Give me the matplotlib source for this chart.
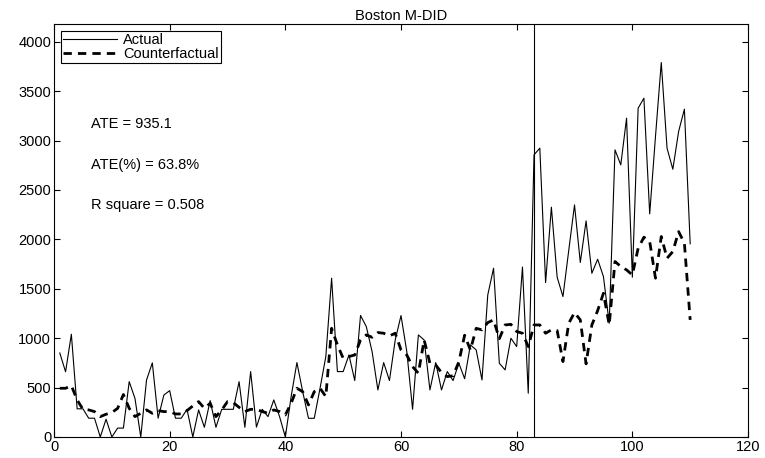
import matplotlib
matplotlib.use("Agg")
import matplotlib.pyplot as plt
import numpy as np

plt.rcParams['font.family'] = ['Liberation Sans', 'DejaVu Sans']

periods = np.arange(1, 111)

actual = [850, 660, 1040, 285, 285, 190, 190, 0, 180, 0,
          90, 90, 560, 390, 0, 577, 750, 190, 425, 469,
          190, 190, 280, 0, 274, 98, 368, 98, 280, 280,
          280, 560, 98, 662, 100, 280, 206, 375, 206, 0,
          409, 753, 459, 189, 189, 493, 814, 1607, 662, 662,
          830, 571, 1230, 1117, 864, 476, 753, 571, 982, 1229,
          864, 280, 1033, 982, 476, 753, 476, 662, 571, 746,
          590, 932, 881, 577, 1438, 1708, 746, 679, 999, 915,
          1720, 443, 2856, 2923, 1563, 2326, 1617, 1421, 1887, 2349,
          1766, 2187, 1657, 1799, 1624, 1151, 2906, 2754, 3227, 1617,
          3328, 3429, 2258, 3041, 3790, 2923, 2710, 3092, 3318, 1955]

counterfactual = [493, 493, 520, 375, 280, 274, 257, 206, 230, 247,
                  290, 430, 290, 206, 240, 274, 240, 267, 257, 257,
                  233, 233, 267, 314, 358, 290, 341, 206, 274, 358,
                  348, 300, 257, 280, 280, 257, 240, 274, 257, 223,
                  341, 493, 459, 324, 459, 493, 409, 1100, 932, 797,
                  814, 830, 982, 1033, 1009, 1057, 1050, 1023, 1050, 881,
                  830, 712, 645, 982, 746, 729, 652, 611, 620, 760,
                  1030, 880, 1100, 1084, 1158, 1185, 995, 1134, 1140, 1067,
                  1050, 915, 1134, 1134, 1050, 1084, 1077, 763, 1151, 1259,
                  1185, 740, 1134, 1279, 1455, 1134, 1776, 1725, 1691, 1640,
                  1910, 2022, 1978, 1607, 2029, 1809, 1877, 2079, 1961, 1185]

treatment_start = 83
stats = ["ATE = 935.1", "ATE(%) = 63.8%", "R square = 0.508"]
stats_y = [3170, 2750, 2350]

FS = 10.5

fig = plt.figure(figsize=(7.65, 4.58), dpi=100)
ax = fig.add_axes([0.0706, 0.0459, 0.9072, 0.9017])

ax.plot(periods, actual, color='black', linewidth=0.8, label='Actual')
ax.plot(periods, counterfactual, color='black', linewidth=2.0,
        linestyle=(0, (3, 2.2)), label='Counterfactual')
ax.axvline(treatment_start, color='black', linewidth=0.8)

for s, y in zip(stats, stats_y):
    ax.text(6.4, y, s, fontsize=FS, va='center', ha='left')

ax.set_xlim(0, 120)
ax.set_ylim(0, 4180)
ax.set_xticks(np.arange(0, 121, 20))
ax.set_yticks(np.arange(0, 4001, 500))
ax.tick_params(direction='in', top=True, right=True, labelsize=FS,
               length=4.3, width=0.8, pad=2)
for sp in ax.spines.values():
    sp.set_linewidth(0.8)

ax.set_title("Boston M-DID", fontsize=FS, pad=3)

leg = ax.legend(loc='upper left', bbox_to_anchor=(0.010, 0.983),
                borderaxespad=0, fontsize=FS, handlelength=3.7,
                labelspacing=0.0, borderpad=0.15, handletextpad=0.4,
                fancybox=False, framealpha=1, edgecolor='black')
leg.get_frame().set_linewidth(0.8)

fig.savefig("out.png", dpi=100)
